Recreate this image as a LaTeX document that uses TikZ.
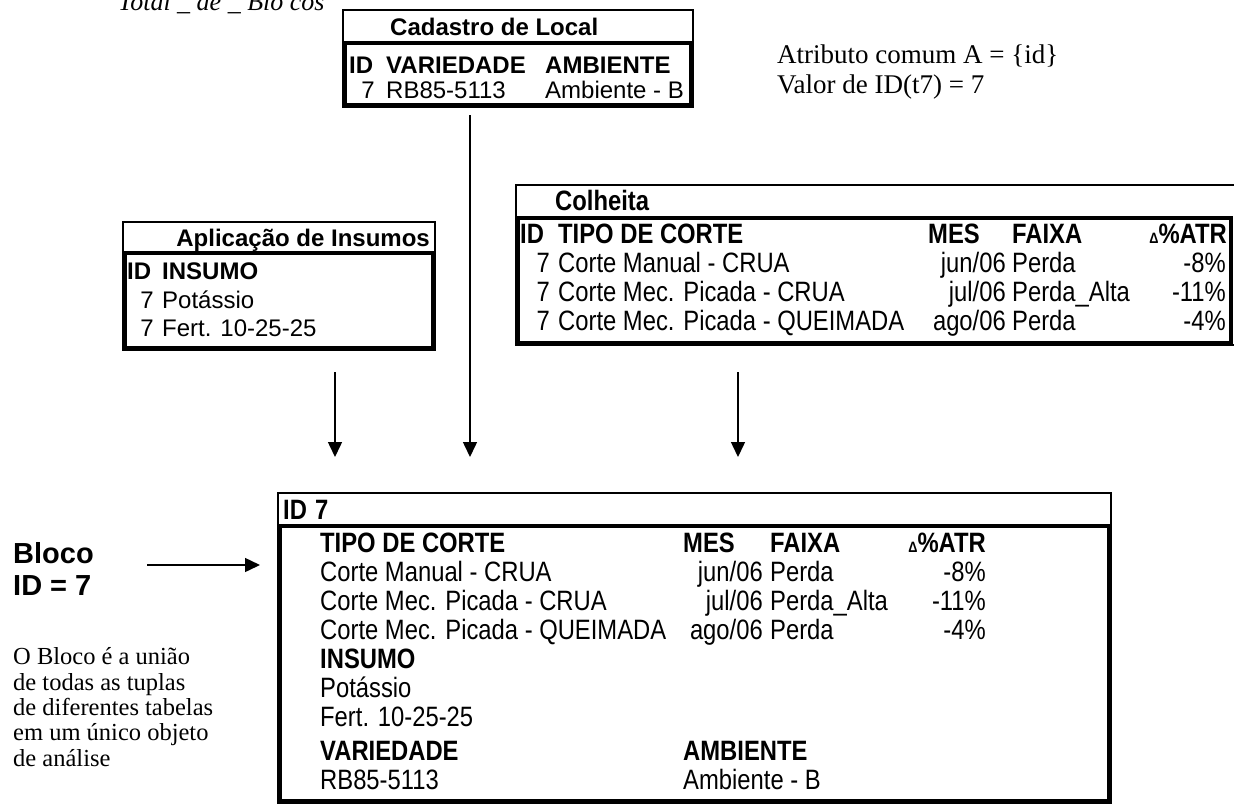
\documentclass[tikz,border=0pt]{standalone}
\usepackage{fontspec}
\usepackage{tikz}
\usetikzlibrary{arrows.meta}
\setmainfont{Liberation Serif}
\setsansfont{Liberation Sans}
\newfontfamily\narrowsans{Liberation Sans}[FakeStretch=0.85]
\newcommand\smalldelta{{\fontsize{15}{15}\selectfont Δ}}

\tikzset{
  tabframe/.style={draw, line width=1.2pt, inner sep=0pt, outer sep=0pt},
  tabbody/.style={line width=3.8pt},
  cell/.style={anchor=base west, inner sep=0pt, font=\sffamily\fontsize{24}{28}\selectfont},
  cellr/.style={cell, anchor=base east},
  cellhd/.style={cell, font=\sffamily\bfseries\fontsize{24}{28}\selectfont},
  cellhdr/.style={cellhd, anchor=base east},
  ncell/.style={anchor=base west, inner sep=0pt, font=\narrowsans\fontsize{28}{30}\selectfont},
  ncellr/.style={ncell, anchor=base east},
  ncellhd/.style={ncell, font=\narrowsans\bfseries\fontsize{28}{30}\selectfont},
  ncellhdr/.style={ncellhd, anchor=base east},
  note/.style={anchor=base west, inner sep=0pt, font=\rmfamily\fontsize{27}{30}\selectfont},
  feed/.style={line width=1.5pt, -{Triangle[width=14pt,length=15pt]}},
}

\begin{document}
\begin{tikzpicture}[x=1pt, y=-1pt]
  \useasboundingbox (0,0) rectangle (1234,806);

  % formula cut by the top edge
  \node[note, font=\itshape\fontsize{26}{28}\selectfont] (formula) at (118,10) {Total \_ de \_ Blo cos};

  % Cadastro de Local
  \node[tabframe, minimum width=350pt, minimum height=97pt] (cadastro) at (518,58.5) {};
  \draw[tabbody] ([xshift=2.4pt]cadastro.west |- 0,43) rectangle ([shift={(-2.4pt,2.4pt)}]cadastro.south east);
  \node[cellhd] (cadTitle) at (390,35) {Cadastro de Local};
  \node[cellhd] (cadId) at (349,73) {ID};
  \node[cellhd] (cadVar) at (386,73) {VARIEDADE};
  \node[cellhd] (cadAmb) at (545,73) {AMBIENTE};
  \node[cellr] (cadNum) at (375,98) {7};
  \node[cell] (cadVarVal) at (386,98) {RB85-5113};
  \node[cell] (cadAmbVal) at (545,98) {Ambiente - B};

  \node[note] (atributo) at (777,63) {Atributo comum A = \{id\}};
  \node[note] (valor) at (777,93) {Valor de ID(t7) = 7};

  % Aplicacao de Insumos
  \node[tabframe, minimum width=312pt, minimum height=128pt] (insumos) at (279,286) {};
  \draw[tabbody] ([xshift=2.4pt]insumos.west |- 0,253) rectangle ([shift={(-2.4pt,2.4pt)}]insumos.south east);
  \node[cellhdr] (insTitle) at (430,246) {Aplicação de Insumos};
  \node[cellhd] (insId) at (127,279) {ID};
  \node[cellhd] (insHd) at (162,279) {INSUMO};
  \foreach \yy/\nome [count=\i] in {308/Potássio, 336/Fert. 10-25-25} {
    \node[cellr] (insNum\i) at (154,\yy) {7};
    \node[cell] (insVal\i) at (162,\yy) {\nome};
  }

  % Colheita
  \node[tabframe, minimum width=721pt, minimum height=160pt] (colheita) at (876.5,265) {};
  \draw[tabbody] ([xshift=2.4pt]colheita.west |- 0,218) rectangle (1231,342.6);
  \node[ncellhd] (colTitle) at (555,210) {Colheita};
  \node[ncellhd] (colId) at (520,243) {ID};
  \node[ncellhd] (colTipo) at (558,243) {TIPO DE CORTE};
  \node[ncellhd] (colMes) at (928,243) {MES};
  \node[ncellhd] (colFaixa) at (1012,243) {FAIXA};
  \node[ncellhdr] (colAtr) at (1227,243) {\smalldelta\%ATR};
  \foreach \yy/\tipo/\mes/\fx/\pct [count=\i] in {
      272/Corte Manual - CRUA/{jun/06}/Perda/-8\%,
      301/Corte Mec. Picada - CRUA/{jul/06}/Perda\_Alta/-11\%,
      330/Corte Mec. Picada - QUEIMADA/{ago/06}/Perda/-4\%} {
    \node[ncellr] (colNum\i) at (550,\yy) {7};
    \node[ncell] (colTipo\i) at (558,\yy) {\tipo};
    \node[ncellr] (colMes\i) at (1006,\yy) {\mes};
    \node[ncell] (colFaixa\i) at (1012,\yy) {\fx};
    \node[ncellr] (colAtr\i) at (1226,\yy) {\pct};
  }

  % arrows into the block
  \coordinate (cadTail) at ([yshift=-8pt]cadastro.south -| 470,0);
  \coordinate (cadHead) at (470,457);
  \coordinate (insTail) at (335,372);
  \coordinate (insHead) at (335,457);
  \coordinate (colTail) at (738,372);
  \coordinate (colHead) at (738,457);
  \draw[feed] (insTail) -- (insHead);
  \draw[feed] (cadTail) -- (cadHead);
  \draw[feed] (colTail) -- (colHead);

  % Bloco ID = 7
  \node[tabframe, minimum width=833pt, minimum height=310pt] (bloco) at (694.5,648) {};
  \draw[tabbody] ([xshift=2.4pt]bloco.west |- 0,526) rectangle ([shift={(-2.4pt,2.4pt)}]bloco.south east);
  \node[ncellhd] (blocoId) at (283,519) {ID\hspace{8pt}7};
  \node[ncellhd] (blTipo) at (320,552) {TIPO DE CORTE};
  \node[ncellhd] (blMes) at (683,552) {MES};
  \node[ncellhd] (blFaixa) at (770,552) {FAIXA};
  \node[ncellhdr] (blAtr) at (986,552) {\smalldelta\%ATR};
  \foreach \yy/\tipo/\mes/\fx/\pct [count=\i] in {
      581/Corte Manual - CRUA/{jun/06}/Perda/-8\%,
      610/Corte Mec. Picada - CRUA/{jul/06}/Perda\_Alta/-11\%,
      639/Corte Mec. Picada - QUEIMADA/{ago/06}/Perda/-4\%} {
    \node[ncell] (blTipo\i) at (320,\yy) {\tipo};
    \node[ncellr] (blMes\i) at (763,\yy) {\mes};
    \node[ncell] (blFaixa\i) at (770,\yy) {\fx};
    \node[ncellr] (blAtr\i) at (986,\yy) {\pct};
  }
  \node[ncellhd] (blInsumo) at (320,668) {INSUMO};
  \node[ncell] (blIns1) at (320,697) {Potássio};
  \node[ncell] (blIns2) at (320,726) {Fert. 10-25-25};
  \node[ncellhd] (blVar) at (320,760) {VARIEDADE};
  \node[ncellhd] (blAmb) at (683,760) {AMBIENTE};
  \node[ncell] (blVarVal) at (320,789) {RB85-5113};
  \node[ncell] (blAmbVal) at (683,789) {Ambiente - B};

  % label on the left
  \node[cellhd, font=\sffamily\bfseries\fontsize{29}{32}\selectfont] (blocoLbl) at (13,563) {Bloco};
  \node[cellhd, font=\sffamily\bfseries\fontsize{29}{32}\selectfont] (blocoEq) at (13,595) {ID = 7};
  \coordinate (lblTail) at (147,565);
  \draw[feed] (lblTail) -- ([xshift=-18pt]bloco.west |- lblTail);
  \foreach \yy/\linha [count=\i] in {664/O Bloco é a união, 690/de todas as tuplas,
      715/de diferentes tabelas, 740/em um único objeto, 766/de análise} {
    \node[note, font=\rmfamily\fontsize{24.5}{27}\selectfont] (expl\i) at (13,\yy) {\linha};
  }
\end{tikzpicture}
\end{document}
